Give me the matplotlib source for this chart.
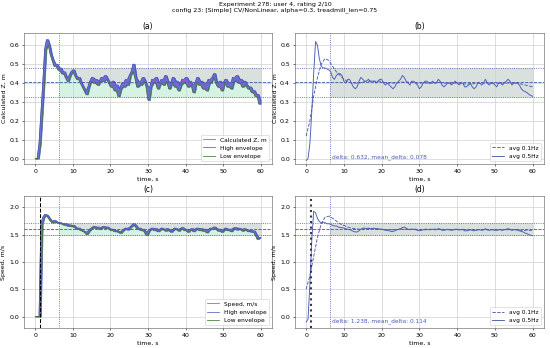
"""Recreate the experiment 278 summary chart (calculated Z and speed)."""

import matplotlib

matplotlib.use("Agg")
import matplotlib.pyplot as plt
import numpy as np
import pandas as pd

# raw samples, every 0.5 s from 0 to 60 s
z_raw = [
    0.00, 0.00, 0.08, 0.24, 0.40, 0.58, 0.63, 0.60, 0.55, 0.52, 0.49, 0.50,
    0.47, 0.48, 0.45, 0.46, 0.43, 0.41, 0.44, 0.46, 0.47, 0.44, 0.42, 0.43,
    0.40, 0.38, 0.36, 0.34, 0.38, 0.41, 0.43, 0.40, 0.42, 0.39, 0.41, 0.43,
    0.41, 0.44, 0.42, 0.40, 0.38, 0.41, 0.36, 0.39, 0.33, 0.37, 0.40, 0.38,
    0.42, 0.39, 0.44, 0.46, 0.50, 0.43, 0.38, 0.41, 0.39, 0.43, 0.41, 0.38,
    0.31, 0.38, 0.42, 0.40, 0.43, 0.37, 0.40, 0.42, 0.39, 0.44, 0.41, 0.37,
    0.40, 0.43, 0.38, 0.41, 0.36, 0.39, 0.42, 0.40, 0.43, 0.38, 0.41, 0.39,
    0.35, 0.40, 0.43, 0.39, 0.41, 0.37, 0.40, 0.36, 0.42, 0.40, 0.43, 0.45,
    0.40, 0.38, 0.41, 0.36, 0.40, 0.42, 0.38, 0.40, 0.37, 0.43, 0.41, 0.44,
    0.40, 0.42, 0.38, 0.41, 0.39, 0.37, 0.38, 0.35, 0.36, 0.33, 0.34, 0.29,
    0.31,
]
speed_raw = [
    0.00, 0.00, 0.00, 1.70, 1.82, 1.87, 1.85, 1.80, 1.75, 1.72, 1.76, 1.73,
    1.71, 1.72, 1.70, 1.68, 1.70, 1.66, 1.68, 1.65, 1.67, 1.63, 1.60, 1.62,
    1.58, 1.57, 1.55, 1.51, 1.56, 1.60, 1.63, 1.65, 1.62, 1.64, 1.60, 1.63,
    1.65, 1.62, 1.64, 1.61, 1.58, 1.60, 1.56, 1.58, 1.55, 1.53, 1.57, 1.60,
    1.62, 1.59, 1.63, 1.66, 1.70, 1.67, 1.60, 1.62, 1.58, 1.60, 1.55, 1.49,
    1.57, 1.60, 1.62, 1.58, 1.61, 1.56, 1.59, 1.62, 1.60, 1.57, 1.61, 1.58,
    1.55, 1.59, 1.62, 1.60, 1.57, 1.61, 1.63, 1.58, 1.60, 1.55, 1.59, 1.61,
    1.56, 1.60, 1.62, 1.58, 1.61, 1.57, 1.60, 1.54, 1.59, 1.62, 1.60, 1.64,
    1.61, 1.57, 1.60, 1.55, 1.59, 1.62, 1.58, 1.60, 1.56, 1.61, 1.63, 1.59,
    1.62, 1.60, 1.57, 1.61, 1.59, 1.56, 1.58, 1.55, 1.57, 1.50, 1.42, 1.45,
    1.45,
]

# 0.5 Hz smoothed, every 0.5 s
z_avg05 = [
    -0.01, 0.00, 0.08, 0.25, 0.45, 0.62, 0.60, 0.53, 0.49, 0.48, 0.48, 0.475,
    0.47, 0.46, 0.43, 0.42, 0.44, 0.45, 0.45, 0.44, 0.41, 0.40, 0.42, 0.42,
    0.40, 0.38, 0.37, 0.38, 0.41, 0.43, 0.42, 0.41, 0.41, 0.42, 0.41, 0.41,
    0.41, 0.40, 0.41, 0.42, 0.42, 0.40, 0.39, 0.40, 0.39, 0.38, 0.37, 0.38,
    0.40, 0.41, 0.42, 0.44, 0.43, 0.41, 0.40, 0.39, 0.41, 0.41, 0.40, 0.39,
    0.37, 0.38, 0.40, 0.41, 0.41, 0.40, 0.40, 0.41, 0.40, 0.40, 0.42, 0.41,
    0.39, 0.38, 0.39, 0.40, 0.40, 0.39, 0.40, 0.41, 0.40, 0.39, 0.40, 0.40,
    0.38, 0.38, 0.39, 0.40, 0.38, 0.37, 0.38, 0.40, 0.40, 0.39, 0.40, 0.42,
    0.40, 0.39, 0.40, 0.40, 0.39, 0.38, 0.40, 0.40, 0.39, 0.40, 0.41, 0.42,
    0.41, 0.39, 0.40, 0.40, 0.40, 0.39, 0.37, 0.36, 0.355, 0.35, 0.34, 0.335,
    0.33,
]
speed_avg05 = [
    -0.10, -0.05, 0.60, 1.40, 1.93, 1.90, 1.80, 1.74, 1.72, 1.73, 1.72, 1.70,
    1.70, 1.69, 1.67, 1.66, 1.66, 1.64, 1.63, 1.63, 1.62, 1.61, 1.60, 1.59,
    1.58, 1.56, 1.55, 1.55, 1.57, 1.60, 1.62, 1.62, 1.61, 1.62, 1.61, 1.61,
    1.62, 1.61, 1.61, 1.60, 1.60, 1.59, 1.58, 1.58, 1.57, 1.56, 1.56, 1.57,
    1.59, 1.60, 1.61, 1.63, 1.64, 1.62, 1.60, 1.59, 1.60, 1.60, 1.59, 1.58,
    1.57, 1.58, 1.59, 1.60, 1.60, 1.59, 1.59, 1.60, 1.59, 1.59, 1.61, 1.60,
    1.58, 1.58, 1.59, 1.60, 1.59, 1.58, 1.59, 1.60, 1.60, 1.59, 1.59, 1.60,
    1.57, 1.57, 1.58, 1.59, 1.58, 1.57, 1.58, 1.59, 1.59, 1.58, 1.59, 1.61,
    1.59, 1.58, 1.59, 1.59, 1.58, 1.58, 1.59, 1.59, 1.58, 1.59, 1.60, 1.61,
    1.60, 1.58, 1.59, 1.59, 1.58, 1.57, 1.56, 1.55, 1.53, 1.52, 1.50, 1.49,
    1.48,
]

# 0.1 Hz smoothed, every 1 s
z_avg01 = [
    0.12, 0.20, 0.33, 0.43, 0.50, 0.53, 0.52, 0.49, 0.46, 0.44, 0.42,
    0.41, 0.40, 0.40, 0.40, 0.405, 0.41, 0.41, 0.41, 0.41, 0.41,
    0.40, 0.40, 0.40, 0.40, 0.405, 0.405, 0.405, 0.405, 0.40, 0.40,
    0.40, 0.40, 0.40, 0.40, 0.405, 0.40, 0.40, 0.40, 0.40, 0.40,
    0.40, 0.395, 0.395, 0.395, 0.40, 0.40, 0.40, 0.40, 0.40, 0.40,
    0.40, 0.40, 0.40, 0.40, 0.40, 0.40, 0.395, 0.39, 0.385, 0.38,
]
speed_avg01 = [
    0.50, 0.75, 1.10, 1.45, 1.70, 1.82, 1.84, 1.80, 1.75, 1.70, 1.67,
    1.64, 1.62, 1.61, 1.60, 1.60, 1.61, 1.61, 1.61, 1.60, 1.60,
    1.59, 1.59, 1.59, 1.59, 1.60, 1.60, 1.60, 1.60, 1.60, 1.59,
    1.59, 1.59, 1.60, 1.60, 1.60, 1.60, 1.59, 1.59, 1.59, 1.59,
    1.59, 1.59, 1.59, 1.59, 1.59, 1.59, 1.59, 1.59, 1.59, 1.59,
    1.59, 1.59, 1.59, 1.59, 1.59, 1.59, 1.58, 1.58, 1.58, 1.58,
]

# reference levels: (low, mean, high), settle time, start time
z_levels = [0.327, 0.404, 0.481]
speed_levels = [1.49, 1.60, 1.71]
settle_time = 6.3
start_time = 1.2
z_stats = "delta: 0.632, mean_delta: 0.078"
speed_stats = "delta: 1.238, mean_delta: 0.114"

LINE_BLUE = "#3a55a8"
FILL_BAND = "#d9e0dd"


def draw_levels(ax, levels, settle):
    lo, mid, hi = levels
    ax.axhline(hi, color=LINE_BLUE, ls=":", lw=1.2)
    ax.axhline(mid, color=LINE_BLUE, ls="--", lw=1.2)
    ax.axhline(lo, color=LINE_BLUE, ls=":", lw=1.2)
    ax.axvline(settle, color=LINE_BLUE, ls=":", lw=1.2)
    ax.fill_between([settle, 60], lo, hi, color=FILL_BAND, zorder=0)


def raw_panel(ax, t, raw, levels, label, title, start=None):
    high = pd.Series(raw).rolling(2, min_periods=1).max().to_numpy()
    low = pd.Series(raw).rolling(2, min_periods=1).min().to_numpy()
    draw_levels(ax, levels, settle_time)
    band_lo = np.full_like(low, levels[0])
    ax.fill_between(t, band_lo, low, where=(t >= settle_time) & (low > levels[0]),
                    color="#d5f2e2", zorder=0.5)
    ax.plot(t, raw, color="#8a5cc8", lw=1.1, label=label)
    ax.fill_between(t, low, high, color="#5a6cd8", alpha=0.95)
    ax.plot(t, high, color="#4050b8", lw=1.0, label="High envelope")
    ax.plot(t, low, color="#3d7a2c", lw=1.1, label="Low envelope")
    if start is not None:
        ax.axvline(start, color="black", ls="--", lw=1.5)
    ax.legend(loc="lower right", fontsize=8.5)
    ax.set_title(title)
    ax.set_xlabel("time, s")


def avg_panel(ax, t05, avg05, t01, avg01, levels, stats, title, start=None):
    draw_levels(ax, levels, settle_time)
    ax.plot(t01, avg01, color="#4a5cb0", ls="--", lw=1.3, label="avg 0.1Hz")
    ax.plot(t05, avg05, color="#4a5cb0", ls="-", lw=1.3, label="avg 0.5Hz")
    if start is not None:
        ax.axvline(start, color="#333355", ls=":", lw=3)
    ax.text(settle_time + 0.5, 0.04, stats, transform=ax.get_xaxis_transform(),
            color="#4a5cb0", fontsize=8.5)
    ax.legend(loc="lower right", fontsize=8.5)
    ax.set_title(title)
    ax.set_xlabel("time, s")


def main():
    plt.rcParams["font.size"] = 9
    plt.rcParams["axes.edgecolor"] = "#555555"

    t05 = np.arange(len(z_raw)) * 0.5
    t01 = np.arange(len(z_avg01)) * 1.0

    fig = plt.figure(figsize=(11, 6.96), dpi=50)
    ax_a = fig.add_axes([0.0436, 0.529, 0.451, 0.376])
    ax_b = fig.add_axes([0.536, 0.529, 0.453, 0.376])
    ax_c = fig.add_axes([0.0436, 0.0575, 0.451, 0.3795])
    ax_d = fig.add_axes([0.536, 0.0575, 0.453, 0.3795])

    raw_panel(ax_a, t05, z_raw, z_levels, "Calculated Z, m", "(a)")
    avg_panel(ax_b, t05, z_avg05, t01, z_avg01, z_levels, z_stats, "(b)")
    raw_panel(ax_c, t05, speed_raw, speed_levels, "Speed, m/s", "(c)", start=start_time)
    avg_panel(ax_d, t05, speed_avg05, t01, speed_avg01, speed_levels, speed_stats,
              "(d)", start=start_time)

    for ax in (ax_a, ax_b):
        ax.set_ylim(-0.028, 0.665)
        ax.set_yticks(np.arange(0, 0.61, 0.1))
        ax.set_ylabel("Calculated Z, m")
    for ax in (ax_c, ax_d):
        ax.set_ylim(-0.21, 2.21)
        ax.set_yticks(np.arange(0, 2.01, 0.5))
        ax.set_ylabel("Speed, m/s")
    for ax in (ax_a, ax_b, ax_c, ax_d):
        ax.set_xlim(-3, 63)
        ax.grid(True, color="#d0d0d0", lw=1)
        ax.set_axisbelow(True)

    fig.suptitle("Experiment 278: user 4, rating 2/10\n"
                 "config 23: [Simple] CV/NonLinear, alpha=0.3, treadmill_len=0.75",
                 y=0.995, fontsize=9, linespacing=1.2)

    fig.savefig("out.png", dpi=50)


if __name__ == "__main__":
    main()
